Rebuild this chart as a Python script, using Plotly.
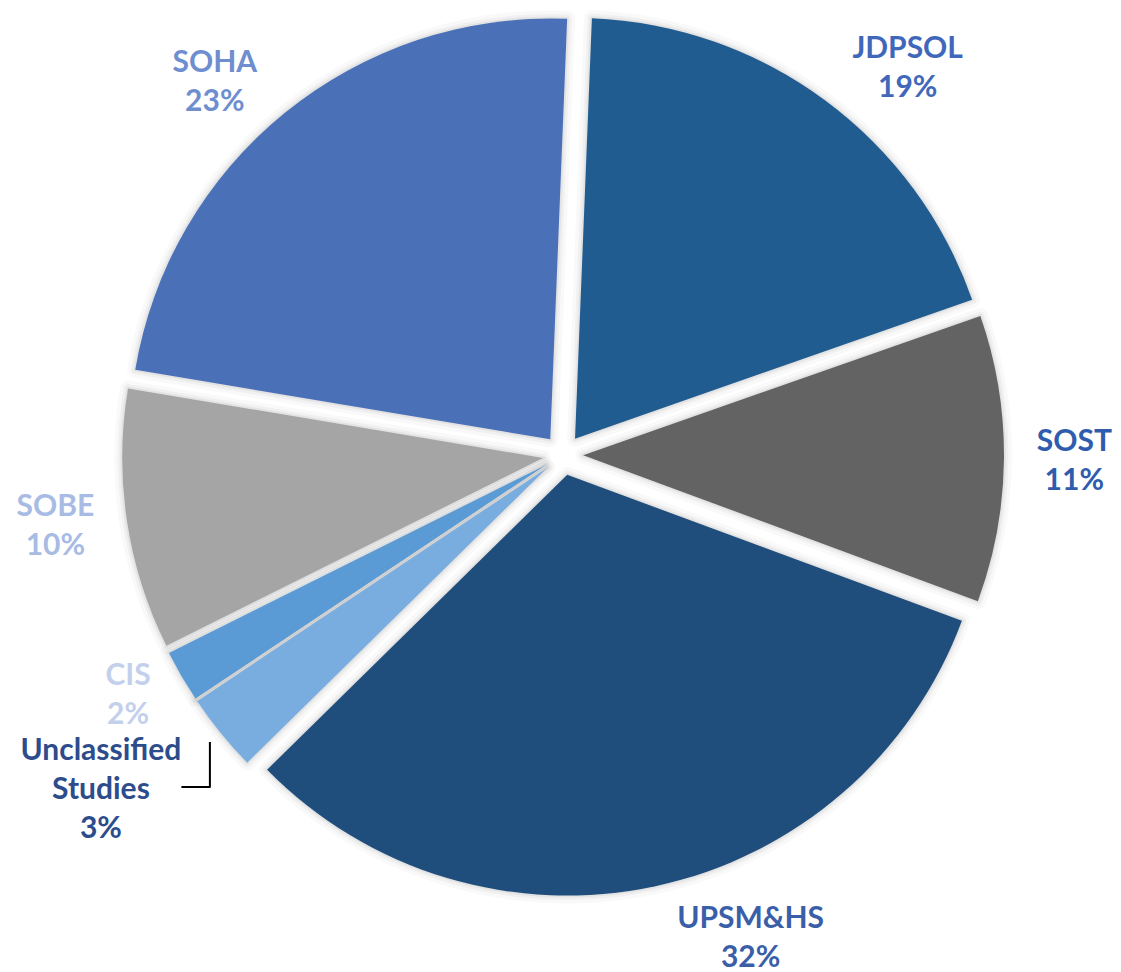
import plotly.graph_objects as go

# Share of studies by school
labels = ["JDPSOL", "SOST", "UPSM&HS", "Unclassified<br>Studies", "CIS", "SOBE", "SOHA"]
values = [19, 11, 32, 3, 2, 10, 23]

slice_colors = ["#215C91", "#636363", "#1F4E7D", "#7AADDF", "#5B9BD5", "#A5A5A5", "#4A70B8"]
label_colors = ["#3F68BB", "#2F5CAE", "#3A5EA8", "#2D4C8C", "#C3D0EC", "#A7BBE4", "#6F8ED0"]

W, H = 1121, 972
box = 882          # pie box size in px
cx, cy = 563, 455  # pie centre in px (from top-left)
pull = [0.048] * len(values)

pie_domain = dict(
    x=[(cx - box / 2) / W, (cx + box / 2) / W],
    y=[(H - cy - box / 2) / H, (H - cy + box / 2) / H],
)
# wider box for the label layer, sharing the same centre
lab_half = min(cy, H - cy, cx, W - cx)
label_domain = dict(
    x=[(cx - lab_half) / W, (cx + lab_half) / W],
    y=[(H - cy - lab_half) / H, (H - cy + lab_half) / H],
)

common = dict(labels=labels, values=values, sort=False, direction="clockwise",
              rotation=2.3, pull=pull, showlegend=False, automargin=False)

fig = go.Figure()

# soft shadow around the slices
for w, a in [(16, 0.025), (9, 0.035), (4, 0.05)]:
    fig.add_trace(go.Pie(
        **common,
        marker=dict(colors=["rgba(0,0,0,0)"] * len(values),
                    line=dict(color=f"rgba(0,0,0,{a})", width=w)),
        textinfo="none", hoverinfo="skip", domain=pie_domain,
    ))

# slices
fig.add_trace(go.Pie(
    **common,
    marker=dict(colors=slice_colors, line=dict(color="rgba(0,0,0,0)", width=0)),
    textinfo="none", hoverinfo="label+percent", domain=pie_domain,
))

# outside labels
fig.add_trace(go.Pie(
    **common,
    marker=dict(colors=["rgba(0,0,0,0)"] * len(values), line=dict(width=0)),
    texttemplate="<b>%{label}<br>%{value}%</b>",
    textposition="outside",
    outsidetextfont=dict(family="Lato", size=30, color=label_colors),
    hoverinfo="skip", domain=label_domain,
))

fig.update_layout(
    width=W,
    height=H,
    margin=dict(l=0, r=0, t=0, b=0, autoexpand=False),
    paper_bgcolor="white",
    plot_bgcolor="white",
)

fig.write_html("out.html")
